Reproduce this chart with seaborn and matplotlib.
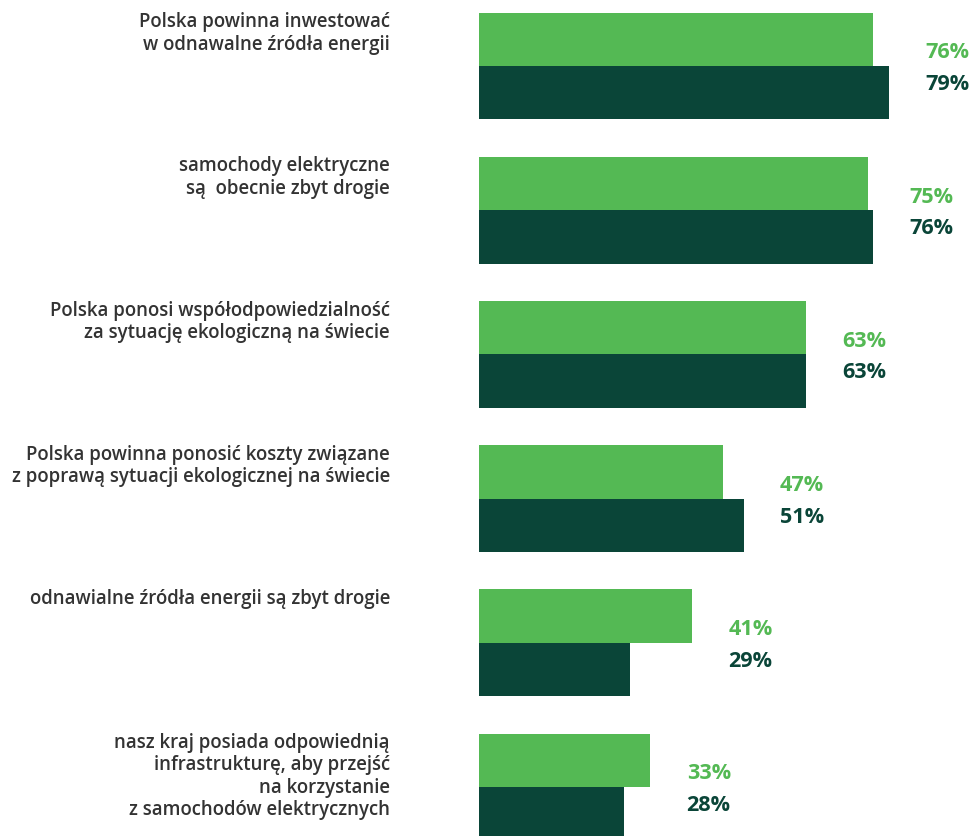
import pandas as pd
import seaborn as sns
import matplotlib.pyplot as plt
import matplotlib.transforms as mtransforms

# Survey statements and shares (%) for the two series
statements = [
    "Polska powinna inwestować\nw odnawalne źródła energii",
    "samochody elektryczne\nsą  obecnie zbyt drogie",
    "Polska ponosi współodpowiedzialność\nza sytuację ekologiczną na świecie",
    "Polska powinna ponosić koszty związane\nz poprawą sytuacji ekologicznej na świecie",
    "odnawialne źródła energii są zbyt drogie",
    "nasz kraj posiada odpowiednią\ninfrastrukturę, aby przejść\nna korzystanie\nz samochodów elektrycznych",
]
series_names = ["A", "B"]
values_a = [76, 75, 63, 47, 41, 33]
values_b = [79, 76, 63, 51, 29, 28]

light = "#54b954"
dark = "#0a4538"
text_col = "#333333"

df = pd.DataFrame({
    "statement": statements * 2,
    "series": [series_names[0]] * len(statements) + [series_names[1]] * len(statements),
    "value": values_a + values_b,
})

sns.set_theme(style="white")
plt.rcParams["font.family"] = ["Open Sans", "DejaVu Sans"]

fig = plt.figure(figsize=(9.75, 8.37), dpi=100)
ax = fig.add_axes([479 / 975, 0, 496 / 975, 1])

sns.barplot(data=df, y="statement", x="value", hue="series", orient="h",
            palette=[light, dark], width=0.74, saturation=1, legend=False,
            linewidth=0, ax=ax)

ax.set_xlim(0, 496 / 5.19)
ax.set_ylim(5.34, -0.465)
ax.set_xlabel("")
ax.set_ylabel("")
ax.set_xticks([])
ax.set_yticks([])
sns.despine(ax=ax, left=True, bottom=True)

# category labels, right-aligned to the left of the bars
trans = mtransforms.blended_transform_factory(fig.transFigure, ax.transData)
for i, s in enumerate(statements):
    ax.text(390 / 975, i - 0.38, s, transform=trans, ha="right", va="top",
            fontsize=13.4, fontweight="semibold", color=text_col,
            linespacing=1.15)

# value labels next to the longer bar of each pair
for i, (a, b) in enumerate(zip(values_a, values_b)):
    xm = max(a, b)
    ax.annotate(f"{a}%", xy=(xm, i), xytext=(26.2, 10.2), textcoords="offset points",
                ha="left", va="center", fontsize=15.6, fontweight="bold", color=light)
    ax.annotate(f"{b}%", xy=(xm, i), xytext=(26.2, -12.6), textcoords="offset points",
                ha="left", va="center", fontsize=15.6, fontweight="bold", color=dark)

fig.savefig("out.png", dpi=100)
